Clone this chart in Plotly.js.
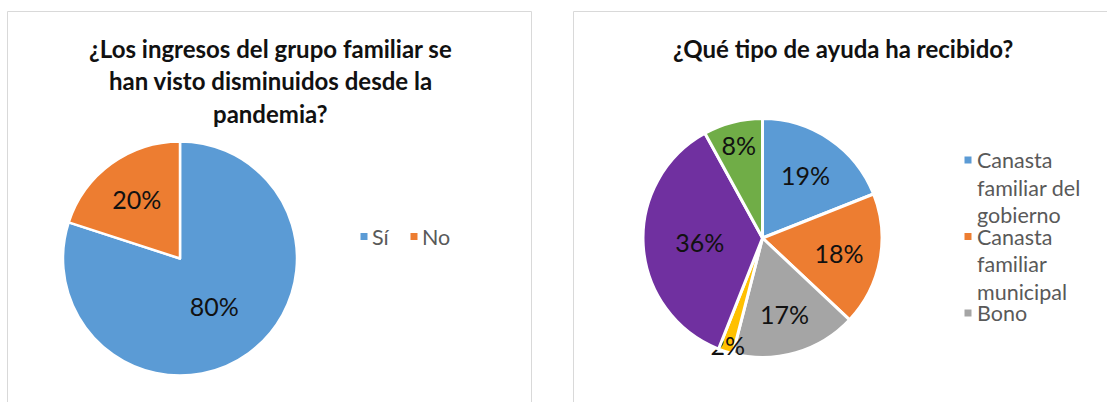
<!DOCTYPE html>
<html>
<head>
<meta charset="utf-8">
<script src="https://cdn.plot.ly/plotly-3.0.1.min.js"></script>
<style>
html,body{margin:0;padding:0;background:#fff;}
#chart{width:1107px;height:402px;}
</style>
</head>
<body>
<div id="chart"></div>
<script>
// ---- data ----
const leftTitle = ["¿Los ingresos del grupo familiar se", "han visto disminuidos desde la", "pandemia?"];
const leftLabels = ["Sí", "No"];
const leftValues = [80, 20];
const leftColors = ["#5B9BD5", "#ED7D31"];

const rightTitle = "¿Qué tipo de ayuda ha recibido?";
const rightLabels = ["Canasta<br>familiar del<br>gobierno", "Canasta<br>familiar<br>municipal", "Bono", "Otro A", "Otro B", "Otro C"];
const rightValues = [19, 18, 17, 2, 36, 8];
const rightColors = ["#5B9BD5", "#ED7D31", "#A5A5A5", "#FFC000", "#7030A0", "#70AD47"];
const rightLegendShown = 3; // only first three legend entries visible in the reference

// ---- helpers ----
const W = 1107, H = 402;
const fx = x => x / W;
const fy = y => 1 - y / H;
const FONT = "Lato, 'Open Sans', sans-serif";

const annotations = [];
const shapes = [];

// boxes
shapes.push({type:"rect", xref:"paper", yref:"paper", x0:fx(7.5), x1:fx(531.5), y0:fy(420), y1:fy(11.5),
  line:{color:"#D9D9D9", width:1}, fillcolor:"rgba(0,0,0,0)"});
shapes.push({type:"rect", xref:"paper", yref:"paper", x0:fx(573.5), x1:fx(1130), y0:fy(420), y1:fy(11.5),
  line:{color:"#D9D9D9", width:1}, fillcolor:"rgba(0,0,0,0)"});

// titles
leftTitle.forEach((t, i) => {
  annotations.push({xref:"paper", yref:"paper", x:fx(270), y:fy(48 + i * 32.5), xanchor:"center", yanchor:"middle",
    text:"<b>" + t + "</b>", showarrow:false, font:{family:FONT, size:24, color:"#111"}});
});
annotations.push({xref:"paper", yref:"paper", x:fx(843), y:fy(48), xanchor:"center", yanchor:"middle",
  text:"<b>" + rightTitle + "</b>", showarrow:false, font:{family:FONT, size:24, color:"#111"}});

// left legend (horizontal)
const leftLegX = [364, 414];
leftLabels.forEach((lab, i) => {
  shapes.push({type:"rect", xref:"paper", yref:"paper", x0:fx(leftLegX[i] - 3.5), x1:fx(leftLegX[i] + 3.5),
    y0:fy(240), y1:fy(233), line:{width:0}, fillcolor:leftColors[i]});
  annotations.push({xref:"paper", yref:"paper", x:fx(leftLegX[i] + 6), y:fy(236.5), xanchor:"left", yanchor:"middle",
    text:lab, showarrow:false, font:{family:FONT, size:21.5, color:"#595959"}});
});

// right legend (vertical, wrapped)
for (let i = 0; i < rightLegendShown; i++) {
  const y0 = 160 + i * 76.5;
  shapes.push({type:"rect", xref:"paper", yref:"paper", x0:fx(964.5), x1:fx(971.5),
    y0:fy(y0 + 3.5), y1:fy(y0 - 3.5), line:{width:0}, fillcolor:rightColors[i]});
  rightLabels[i].split("<br>").forEach((line, j) => {
    annotations.push({xref:"paper", yref:"paper", x:fx(975), y:fy(y0 + j * 27.5), xanchor:"left", yanchor:"middle",
      text:line, showarrow:false, font:{family:FONT, size:21.5, color:"#595959"}});
  });
}

const data = [
  {
    type:"pie", labels:leftLabels, values:leftValues, sort:false, direction:"clockwise", rotation:0,
    marker:{colors:leftColors, line:{color:"#fff", width:2.5}},
    textinfo:"percent", textposition:"inside", insidetextorientation:"horizontal",
    texttemplate:"%{percent:.0%}",
    textfont:{family:FONT, size:25, color:"#111"},
    domain:{x:[fx(63), fx(297)], y:[fy(375.5), fy(141.5)]},
    showlegend:false, hoverinfo:"label+percent"
  },
  {
    type:"pie", labels:rightLabels, values:rightValues, sort:false, direction:"clockwise", rotation:0,
    marker:{colors:rightColors, line:{color:"#fff", width:3}},
    textinfo:"percent", textposition:"inside", insidetextorientation:"horizontal",
    texttemplate:"%{percent:.0%}",
    textfont:{family:FONT, size:25, color:"#111"},
    domain:{x:[fx(643), fx(882)], y:[fy(357.5), fy(118.5)]},
    showlegend:false, hoverinfo:"label+percent"
  }
];

const layout = {
  width:W, height:H,
  margin:{l:0, r:0, t:0, b:0},
  paper_bgcolor:"#fff", plot_bgcolor:"#fff",
  showlegend:false,
  annotations:annotations,
  shapes:shapes,
  uniformtext:{mode:"show", minsize:25}
};

Plotly.newPlot("chart", data, layout, {displayModeBar:false, staticPlot:true});
</script>
</body>
</html>
